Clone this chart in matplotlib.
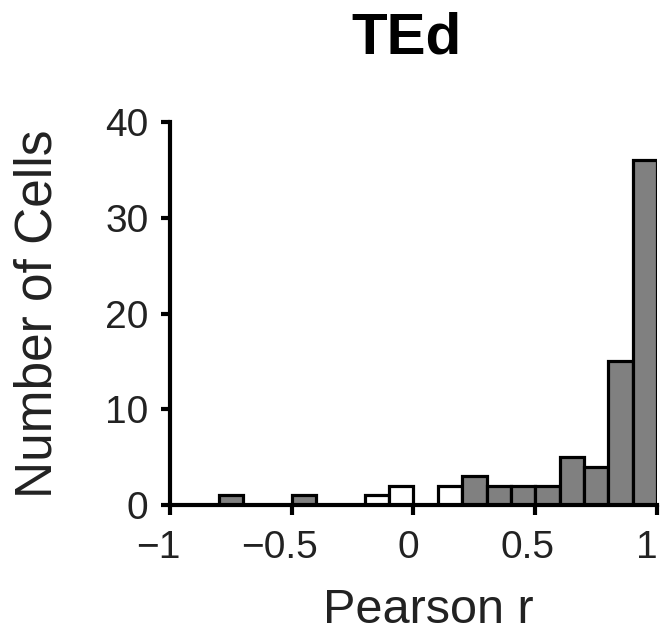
import matplotlib
matplotlib.use("Agg")
import matplotlib.pyplot as plt
import matplotlib.transforms as mtransforms

plt.rcParams['font.family'] = ['Liberation Sans', 'DejaVu Sans']

bin_left = [round(-1.0 + 0.1 * i, 1) for i in range(20)]
counts = [0, 0, 1, 0, 0, 1, 0, 0, 1, 2, 0, 2, 3, 2, 2, 2, 5, 4, 15, 36]
significant = [True, True, True, True, True, True, True, True, False, False,
               False, False, True, True, True, True, True, True, True, True]
xticks = [-1, -0.5, 0, 0.5, 1]
xticklabels = ['\u22121', '\u22120.5', '0', '0.5', '1']
yticks = [0, 10, 20, 30, 40]

fig = plt.figure(figsize=(6.65, 6.33), dpi=100)
ax = fig.add_axes([0.2556, 0.2022, 0.7324, 0.6048])

colors = ['#808080' if s else 'white' for s in significant]
for x, c, col in zip(bin_left, counts, colors):
    if c > 0:
        ax.bar(x, c, width=0.1, align='edge', color=col, edgecolor='black',
               linewidth=2.3, zorder=2)

ax.set_xlim(-1, 1)
ax.set_ylim(0, 40)
ax.spines['top'].set_visible(False)
ax.spines['right'].set_visible(False)
for s in ['left', 'bottom']:
    ax.spines[s].set_linewidth(3)
    ax.spines[s].set_zorder(3)
ax.set_xticks(xticks)
ax.set_xticklabels(xticklabels)
ax.set_yticks(yticks)
ax.tick_params(axis='x', direction='out', length=7, width=3,
               labelsize=28, colors='black', labelcolor='#222222', pad=11)
ax.tick_params(axis='y', direction='out', length=6.5, width=3,
               labelsize=28, colors='black', labelcolor='#222222', pad=9)

# small horizontal nudges of x tick labels (pixels)
nudges = [-12, -12, -5, -8, -10]
for lab, dx in zip(ax.get_xticklabels(), nudges):
    lab.set_transform(lab.get_transform() +
                      mtransforms.ScaledTranslation(dx / 100, 0, fig.dpi_scale_trans))

ax.set_xlabel('Pearson r', fontsize=35, color='#222222', va='baseline')
ax.xaxis.set_label_coords(0.531, -0.308)
ax.set_ylabel('Number of Cells', fontsize=37, color='#222222', va='baseline')
ax.yaxis.set_label_coords(-0.2423, 0.5)

fig.text(406 / 665, 1 - 53 / 633, 'TEd', fontsize=42, fontweight='bold',
         ha='center', va='baseline')

fig.savefig('out.png', dpi=100)
